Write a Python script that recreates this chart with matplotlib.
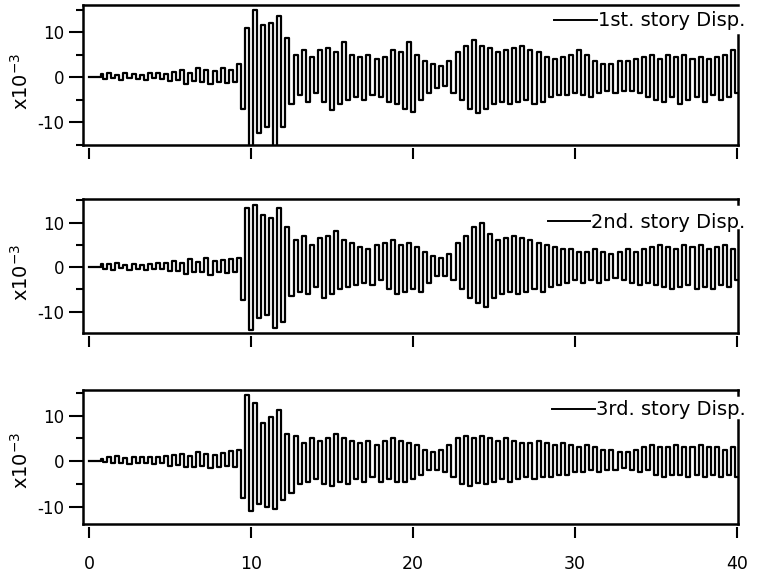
import numpy as np
import matplotlib
matplotlib.use('Agg')
import matplotlib.pyplot as plt
from matplotlib.lines import Line2D
from matplotlib.ticker import FixedLocator, FixedFormatter

plt.rcParams['font.family'] = ['DejaVu Sans']
plt.rcParams['mathtext.fontset'] = 'dejavusans'
plt.rcParams['mathtext.default'] = 'regular'
plt.rcParams['axes.unicode_minus'] = False

# time axis of the records (s): quiet start, then one positive and one negative peak per cycle
quiet_end = 0.7
cycle_start = 0.75
cycle_step = 0.5

# peak displacements (x10^-3) per cycle
pos1 = [0.6, 0.9, 0.5, 0.9, 0.7, 0.4, 0.8, 1.0, 0.7,
        1.2, 1.5, 1.0, 2.0, 1.6, 1.3, 2.0, 1.5,
        3.0, 11.0, 15.0, 11.5, 12.0, 13.5, 8.6,
        5.0, 6.0, 4.5, 6.0, 6.5, 5.5, 7.8, 5.0, 4.5, 5.0, 4.0, 4.5, 6.0, 5.5, 7.8,
        5.0, 3.5, 3.0, 2.5, 3.5, 5.5, 7.0, 8.2, 7.0, 6.5, 5.5, 6.0, 6.5, 7.0, 6.0,
        5.5, 4.5, 4.0, 4.5, 5.0, 6.0, 5.0, 3.5, 3.0, 3.0, 3.5, 3.5, 4.0, 4.5, 5.0,
        4.0, 5.0, 4.5, 5.0, 4.0, 4.5, 4.0, 4.5, 5.0, 6.0]
neg1 = [-0.4, -0.3, -0.6, -0.3, -0.5, -0.6, -0.3, -0.4, -0.8,
        -0.6, -1.5, -0.8, -1.2, -1.6, -1.0, -1.4, -1.0,
        -7.0, -15.5, -12.5, -11.0, -15.5, -11.0, -6.0,
        -4.0, -5.5, -3.5, -5.5, -7.3, -6.0, -5.0, -4.5, -5.0, -4.0, -4.5, -5.5, -6.0, -7.0, -7.7,
        -5.0, -3.5, -2.5, -2.0, -3.5, -5.0, -7.0, -8.0, -7.0, -6.0, -5.5, -6.0, -5.5, -5.0, -6.0,
        -5.5, -4.5, -4.0, -4.0, -3.5, -4.0, -4.5, -3.5, -3.0, -3.5, -3.0, -3.0, -3.5, -4.5, -5.0,
        -5.5, -4.5, -6.0, -5.0, -4.5, -5.5, -4.0, -5.0, -4.5, -3.5]

pos2 = [0.7, 0.6, 0.9, 0.5, 0.8, 0.4, 0.7, 0.9, 1.0,
        1.4, 1.0, 1.8, 1.2, 2.0, 1.4, 1.6, 1.8,
        2.0, 13.3, 14.0, 11.7, 11.0, 13.3, 9.0,
        6.0, 7.0, 5.0, 6.5, 7.0, 8.0, 6.0, 5.5, 4.5, 4.0, 5.0, 5.5, 6.0, 5.0, 5.5,
        4.5, 3.5, 2.5, 2.0, 3.0, 5.5, 7.0, 9.0, 10.0, 7.5, 6.0, 6.5, 7.0, 6.5, 6.0,
        5.5, 5.0, 4.5, 4.0, 4.0, 3.5, 3.5, 4.0, 3.5, 3.0, 3.5, 4.0, 3.5, 4.0, 4.5,
        5.0, 4.5, 4.0, 5.0, 4.5, 5.0, 4.0, 4.5, 5.0, 4.0]
neg2 = [-0.4, -0.6, -0.3, -0.6, -0.5, -0.7, -0.4, -0.5, -0.9,
        -0.8, -1.5, -1.0, -1.2, -1.8, -1.0, -1.3, -1.1,
        -7.4, -14.1, -11.5, -10.8, -13.7, -12.3, -6.5,
        -5.5, -6.0, -4.5, -7.0, -6.0, -5.0, -4.5, -4.0, -3.5, -4.0, -3.0, -5.0, -6.0, -5.5, -5.0,
        -5.5, -3.5, -2.0, -2.0, -3.0, -5.0, -7.0, -8.0, -9.0, -7.0, -6.0, -5.5, -6.0, -5.5, -5.0,
        -5.5, -4.5, -4.0, -3.5, -3.0, -3.5, -3.0, -3.5, -3.0, -2.5, -3.0, -3.5, -4.0, -3.5, -4.0,
        -4.5, -5.0, -4.5, -4.0, -5.0, -4.5, -5.0, -4.0, -4.5, -3.0]

pos3 = [0.5, 0.9, 1.1, 0.7, 0.8, 0.9, 1.0, 0.8, 1.2,
        1.4, 1.6, 1.2, 1.9, 1.5, 1.4, 1.8, 2.2,
        2.5, 14.5, 12.7, 8.4, 9.7, 11.2, 6.0,
        5.5, 4.0, 5.0, 4.5, 5.0, 6.0, 5.0, 4.5, 4.0, 4.5, 3.5, 4.5, 5.0, 4.5, 4.0,
        3.5, 2.5, 2.0, 2.5, 3.5, 5.0, 5.5, 5.0, 5.5, 5.0, 4.5, 5.0, 4.5, 4.0, 4.0,
        4.5, 4.0, 3.5, 4.0, 3.5, 3.0, 3.5, 3.0, 2.5, 2.5, 2.0, 2.0, 2.5, 3.0, 3.5,
        3.0, 3.0, 3.5, 3.0, 3.0, 3.5, 3.0, 3.0, 2.5, 3.0]
neg3 = [-0.3, -0.5, -0.4, -0.6, -0.5, -0.4, -0.7, -0.5, -1.0,
        -0.8, -1.2, -1.4, -1.0, -1.5, -1.2, -1.0, -1.4,
        -8.1, -11.0, -9.5, -10.0, -10.5, -8.5, -7.0,
        -5.0, -4.5, -4.0, -5.0, -5.5, -4.5, -5.0, -4.0, -4.5, -3.5, -4.5, -4.0, -4.6, -4.5, -4.0,
        -3.0, -2.0, -2.0, -2.5, -3.5, -5.0, -5.5, -4.9, -5.0, -4.5, -4.0, -4.5, -4.0, -3.5, -4.0,
        -3.5, -3.5, -3.0, -3.0, -2.5, -2.5, -2.0, -2.5, -2.0, -2.0, -1.5, -2.0, -2.5, -2.0, -3.0,
        -3.5, -3.0, -3.0, -3.5, -3.0, -3.5, -3.0, -3.5, -3.0, -3.5]

labels = ['1st. story Disp.', '2nd. story Disp.', '3rd. story Disp.']
x_ticks = [0, 10, 20, 30, 40]
x_ticklabels = ['0', '10', '20', '30', '40']
y_major = [-10, 0, 10]
y_major_labels = ['-10', '0', '10']
y_minor = [-15, -5, 5, 15]


def build(pos, neg):
    n = len(pos)
    t_pos = cycle_start + cycle_step * np.arange(n)
    t_neg = t_pos + cycle_step / 2
    t = np.empty(2 * n)
    v = np.empty(2 * n)
    t[0::2] = t_pos
    t[1::2] = t_neg
    v[0::2] = pos
    v[1::2] = neg
    t = np.concatenate([[0.0, quiet_end], t])
    v = np.concatenate([[0.0, 0.0], v])
    return t, v


W, H = 760, 574
fig = plt.figure(figsize=(W / 100, H / 100), dpi=100)


def rect(l, t, r, b):
    return [l / W, 1 - b / H, (r - l) / W, (b - t) / H]


panels = [
    dict(box=(83, 5, 738, 145), ylim=(-15.1, 16.0), data=(pos1, neg1), leg_y=0.886,
         ylab_y=81, right_top=0.786, corner=False),
    dict(box=(83, 199, 738, 333), ylim=(-14.8, 15.3), data=(pos2, neg2), leg_y=0.828,
         ylab_y=272, right_top=0.769, corner=True),
    dict(box=(83, 390, 738, 524), ylim=(-13.8, 15.6), data=(pos3, neg3), leg_y=0.851,
         ylab_y=460, right_top=0.776, corner=True),
]

for i, p in enumerate(panels):
    ax = fig.add_axes(rect(*p['box']))
    t, v = build(*p['data'])
    ax.plot(t, v, color='black', lw=1.6, drawstyle='steps-mid')
    ax.set_xlim(-0.37, 40.06)
    ax.set_ylim(*p['ylim'])

    for s in ['left', 'top']:
        ax.spines[s].set_linewidth(1.8)
        ax.spines[s].set_color('black')
    ax.spines['right'].set_visible(False)
    ax.spines['bottom'].set_position(('outward', 2.5))
    ax.spines['bottom'].set_color('none')
    ax.plot([0, 1], [0, 0], transform=ax.transAxes, color='black', lw=1.8,
            clip_on=False, solid_capstyle='projecting')
    ax.plot([1, 1], [0, p['right_top']], transform=ax.transAxes, color='black', lw=1.8,
            clip_on=False, solid_capstyle='projecting')
    if p['corner']:
        ax.plot([1, 1], [1, 1 - 5 / (p['box'][3] - p['box'][1])], transform=ax.transAxes,
                color='black', lw=1.8, clip_on=False, solid_capstyle='projecting')

    ax.xaxis.set_major_locator(FixedLocator(x_ticks))
    ax.xaxis.set_major_formatter(FixedFormatter(x_ticklabels))
    ax.tick_params(axis='x', direction='out', length=8, width=1.5, pad=12,
                   labelsize=12.5, labelbottom=(i == 2), top=False)
    ax.yaxis.set_major_locator(FixedLocator(y_major))
    ax.yaxis.set_major_formatter(FixedFormatter(y_major_labels))
    ax.yaxis.set_minor_locator(FixedLocator(y_minor))
    ax.tick_params(axis='y', which='major', direction='out', length=10, width=1.5,
                   pad=3.5, labelsize=12, right=False)
    ax.tick_params(axis='y', which='minor', direction='out', length=5, width=1.5,
                   right=False)

    leg = ax.legend([Line2D([], [], color='black', lw=1.4)], [labels[i]],
                    loc='center right', bbox_to_anchor=(1.0205, p['leg_y']),
                    frameon=False, fontsize=14, handlelength=2.2, handletextpad=0.05,
                    borderpad=0.3, borderaxespad=0)
    leg.set_zorder(5)

    fig.text(21 / W, 1 - p['ylab_y'] / H, 'x10$^{-3}$', rotation=90,
             ha='center', va='center', fontsize=14)

fig.savefig('out.png', dpi=100)
